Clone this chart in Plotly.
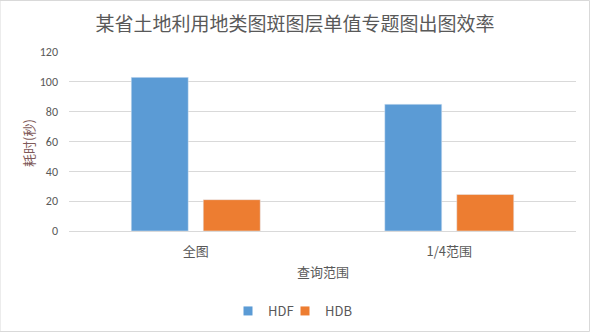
import plotly.graph_objects as go

categories = ["全图", "1/4范围"]
hdf_values = [103, 85]
hdb_values = [21, 24.5]
y_ticks = [0, 20, 40, 60, 80, 100, 120]

FONT = "Carlito, Calibri, 'Noto Sans CJK SC', sans-serif"
CJK = "'Noto Sans CJK SC', sans-serif"
GRAY = "#595959"
BLUE = "#5B9BD5"
ORANGE = "#ED7D31"

fig = go.Figure()
fig.add_trace(go.Bar(name="HDF", x=categories, y=hdf_values, marker_color=BLUE, showlegend=False))
fig.add_trace(go.Bar(name="HDB", x=categories, y=hdb_values, marker_color=ORANGE, showlegend=False))
# legend proxies (small square swatches)
fig.add_trace(go.Scatter(name="HDF", x=[None], y=[None], mode="markers",
                         marker=dict(symbol="square", size=9, color=BLUE), legend="legend"))
fig.add_trace(go.Scatter(name="HDB", x=[None], y=[None], mode="markers",
                         marker=dict(symbol="square", size=9, color=ORANGE), legend="legend2"))

legend_common = dict(orientation="h", yref="container", y=1 - 311 / 332, yanchor="middle",
                     xref="container", xanchor="left",
                     font=dict(family=CJK, size=13, color=GRAY), itemwidth=30,
                     bgcolor="rgba(0,0,0,0)")

fig.update_layout(
    width=590, height=332,
    margin=dict(l=69, r=14, t=52, b=101, autoexpand=False),
    paper_bgcolor="white", plot_bgcolor="white",
    barmode="group", bargap=0.432, bargroupgap=0.208,
    font=dict(family=FONT, color=GRAY, size=12),
    title=dict(text="某省土地利用地类图斑图层单值专题图出图效率", x=0.5, xanchor="center",
               y=1 - 24 / 332, yanchor="middle",
               font=dict(family=CJK, size=19, color=GRAY)),
    xaxis=dict(showgrid=False, showline=True, linecolor="#D9D9D9", linewidth=1,
               ticks="", ticklabelstandoff=8, tickfont=dict(family=CJK, size=13, color=GRAY)),
    yaxis=dict(range=[0, 120], tickvals=y_ticks, gridcolor="#D9D9D9", gridwidth=1,
               zeroline=False, showline=False, ticks="", ticklabelstandoff=10,
               tickfont=dict(size=12, color=GRAY)),
    legend=dict(x=228 / 590, **legend_common),
    legend2=dict(x=285 / 590, **legend_common),
    showlegend=True,
)

fig.add_annotation(text="查询范围", xref="paper", yref="paper", x=0.5, y=(231 - 271) / 179,
                   showarrow=False, yanchor="middle", font=dict(family=CJK, size=13, color=GRAY))
fig.add_annotation(text="耗时(秒)", xref="paper", yref="paper", x=(28 - 69) / 507, y=(231 - 143) / 179,
                   textangle=-90, showarrow=False, xanchor="center", yanchor="middle",
                   font=dict(family=CJK, size=13, color="#7F5A5A"))

fig.add_shape(type="rect", xref="paper", yref="paper",
              x0=-69 / 507, x1=1 + 13.5 / 507, y0=-100.5 / 179, y1=1 + 51.5 / 179,
              line=dict(color="#D9D9D9", width=1), fillcolor="rgba(0,0,0,0)", layer="below")

fig.write_html("out.html")
